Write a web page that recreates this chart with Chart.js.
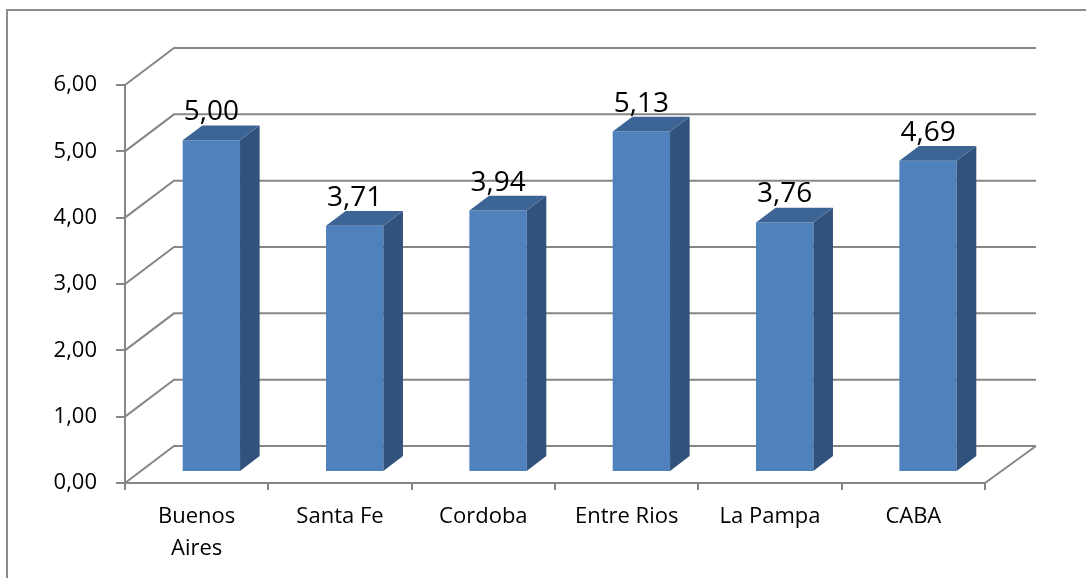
<!DOCTYPE html>
<html>
<head>
<meta charset="utf-8">
<script src="https://cdn.jsdelivr.net/npm/chart.js@4.4.1/dist/chart.umd.min.js"></script>
<style>
  html, body { margin: 0; padding: 0; background: #fff; }
  #wrap { width: 1086px; height: 578px; position: relative; }
</style>
</head>
<body>
<div id="wrap"><canvas id="chart"></canvas></div>
<script>
var provincias = ['Buenos Aires', 'Santa Fe', 'Cordoba', 'Entre Rios', 'La Pampa', 'CABA'];
var valores = [5.00, 3.71, 3.94, 5.13, 3.76, 4.69];
var yTicks = [0, 1, 2, 3, 4, 5, 6];

var GRIS = '#868686';
var depth = { dx: 49, dy: -37 };   // front plane -> back wall
var barFront = 0.3, barBack = 0.7;

function fmt(v) { return v.toFixed(2).replace('.', ','); }

var fake3d = {
  id: 'fake3d',
  beforeDraw: function (chart) {
    var ctx = chart.ctx;
    ctx.save();
    ctx.strokeStyle = '#8c8c8c';
    ctx.lineWidth = 2;
    ctx.strokeRect(7, 10, 1200, 700);
    ctx.restore();
  },
  beforeDatasetsDraw: function (chart) {
    var ctx = chart.ctx, a = chart.chartArea, ys = chart.scales.y;
    ctx.save();
    ctx.strokeStyle = GRIS;
    ctx.lineWidth = 2;
    ctx.beginPath();
    yTicks.forEach(function (v) {
      var py = ys.getPixelForValue(v);
      // left wall diagonal
      ctx.moveTo(a.left, py);
      ctx.lineTo(a.left + depth.dx, py + depth.dy);
      // back wall line
      ctx.lineTo(a.right + depth.dx + 2, py + depth.dy);
    });
    // floor right edge
    var p0 = ys.getPixelForValue(0);
    ctx.moveTo(a.right, p0);
    ctx.lineTo(a.right + depth.dx + 2, p0 + depth.dy);
    ctx.stroke();
    ctx.restore();
  },
  beforeDatasetDraw: function (chart) {
    chart.ctx.save();
    chart.ctx.translate(depth.dx * barFront, depth.dy * barFront);
  },
  afterDatasetDraw: function (chart, args) {
    var ctx = chart.ctx;
    var ddx = depth.dx * (barBack - barFront), ddy = depth.dy * (barBack - barFront);
    args.meta.data.forEach(function (el, i) {
      var p = el.getProps(['x', 'y', 'base', 'width'], true);
      var l = p.x - p.width / 2, r = p.x + p.width / 2;
      // side
      ctx.fillStyle = '#31527c';
      ctx.beginPath();
      ctx.moveTo(r, p.y);
      ctx.lineTo(r + ddx, p.y + ddy);
      ctx.lineTo(r + ddx, p.base + ddy);
      ctx.lineTo(r, p.base);
      ctx.closePath();
      ctx.fill();
      // top
      ctx.fillStyle = '#3c6494';
      ctx.beginPath();
      ctx.moveTo(l, p.y);
      ctx.lineTo(l + ddx, p.y + ddy);
      ctx.lineTo(r + ddx, p.y + ddy);
      ctx.lineTo(r, p.y);
      ctx.closePath();
      ctx.fill();
      // value label
      ctx.fillStyle = '#000';
      ctx.font = '28px "Open Sans"';
      ctx.textAlign = 'center';
      ctx.textBaseline = 'alphabetic';
      ctx.fillText(fmt(valores[i]), p.x, p.y - 20);
    });
    ctx.restore();
  }
};

new Chart(document.getElementById('chart'), {
  type: 'bar',
  data: {
    labels: provincias.map(function (s) { return s.indexOf('Buenos') === 0 ? s.split(' ') : s; }),
    datasets: [{
      data: valores,
      backgroundColor: '#4f81bd',
      borderWidth: 0,
      categoryPercentage: 1,
      barPercentage: 0.4,
      clip: false
    }]
  },
  options: {
    responsive: true,
    maintainAspectRatio: false,
    animation: false,
    layout: { padding: { top: 85, right: 101, left: 0, bottom: 0 } },
    plugins: { legend: { display: false }, tooltip: { enabled: false } },
    scales: {
      x: {
        afterFit: function (s) { s.height = 95; },
        grid: { drawOnChartArea: false, tickLength: 7, color: GRIS, lineWidth: 2 },
        border: { color: GRIS, width: 2 },
        ticks: { color: '#000', padding: 11, font: { family: 'Open Sans', size: 22, lineHeight: 1.45 }, maxRotation: 0 }
      },
      y: {
        min: 0, max: 6,
        afterFit: function (s) { s.width = 125; },
        grid: { drawOnChartArea: false, tickLength: 9, color: GRIS, lineWidth: 2 },
        border: { color: GRIS, width: 2 },
        ticks: { stepSize: 1, color: '#000', padding: 19, font: { family: 'Open Sans', size: 22 }, callback: function (v) { return fmt(v); } }
      }
    }
  },
  plugins: [fake3d]
});
</script>
</body>
</html>
